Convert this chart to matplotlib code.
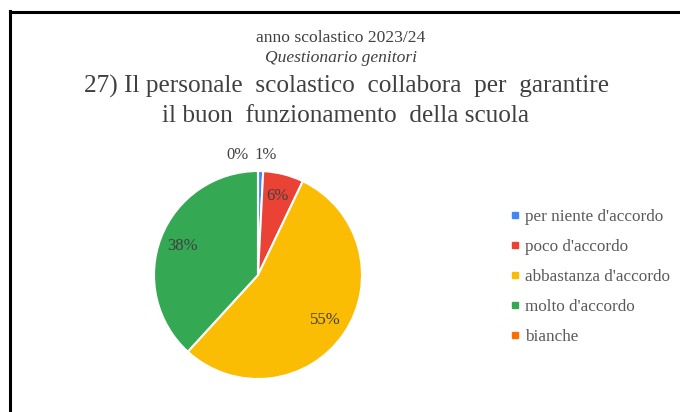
import matplotlib.pyplot as plt
from matplotlib.lines import Line2D

labels = ["per niente d'accordo", "poco d'accordo", "abbastanza d'accordo", "molto d'accordo", "bianche"]
values = [0.8, 6.3, 54.7, 38.2, 0.0]
colors = ["#4285F4", "#EA4335", "#FBBC04", "#34A853", "#FF6D01"]

plt.rcParams['font.family'] = ['Liberation Serif', 'DejaVu Serif']

W, H = 680, 412
fig = plt.figure(figsize=(W / 100, H / 100), dpi=100)

# frame (only left and top visible)
fig.add_artist(Line2D([9.5 / W, 9.5 / W], [0, 1 - 11 / H], color='black', lw=2.2, transform=fig.transFigure))
fig.add_artist(Line2D([9.5 / W, 1], [1 - 11.5 / H, 1 - 11.5 / H], color='black', lw=2.2, transform=fig.transFigure))

tc = '#404040'
fig.text(341 / W, 1 - 38 / H, "anno scolastico 2023/24", ha='center', va='center', fontsize=12.6, color=tc)
fig.text(341 / W, 1 - 58 / H, "Questionario genitori", ha='center', va='center', fontsize=12.6, style='italic', color=tc)
fig.text(346 / W, 1 - 86 / H, "27) Il personale  scolastico  collabora  per  garantire", ha='center', va='center', fontsize=18.2, color=tc)
fig.text(346 / W, 1 - 116 / H, "il buon  funzionamento  della scuola", ha='center', va='center', fontsize=18.2, color=tc)

cx, cy, r = 258, 275, 104
ax = fig.add_axes([(cx - r) / W, (H - cy - r) / H, 2 * r / W, 2 * r / H])
wedges, texts, autotexts = ax.pie(values, colors=colors, startangle=90, counterclock=False,
                                  autopct='%.0f%%', pctdistance=0.78,
                                  wedgeprops=dict(edgecolor='white', linewidth=1.5),
                                  textprops=dict(fontsize=12, color='#404040'))
ax.set_xlim(-1, 1)
ax.set_ylim(-1, 1)
ax.set_aspect('equal')
ax.axis('off')

# small slices: labels outside
autotexts[0].set_position((0.07, 1.15))
autotexts[4].set_position((-0.2, 1.15))

handles = [Line2D([], [], marker='s', linestyle='', markersize=5, markerfacecolor=c, markeredgecolor=c) for c in colors]
fig.legend(handles, labels, loc='upper left', bbox_to_anchor=(510 / W, 1 - 209 / H), frameon=False,
           fontsize=12.3, labelcolor='#595959', handlelength=0.6, handletextpad=0.3, labelspacing=0.82,
           borderaxespad=0, borderpad=0)

plt.savefig('out.png')
